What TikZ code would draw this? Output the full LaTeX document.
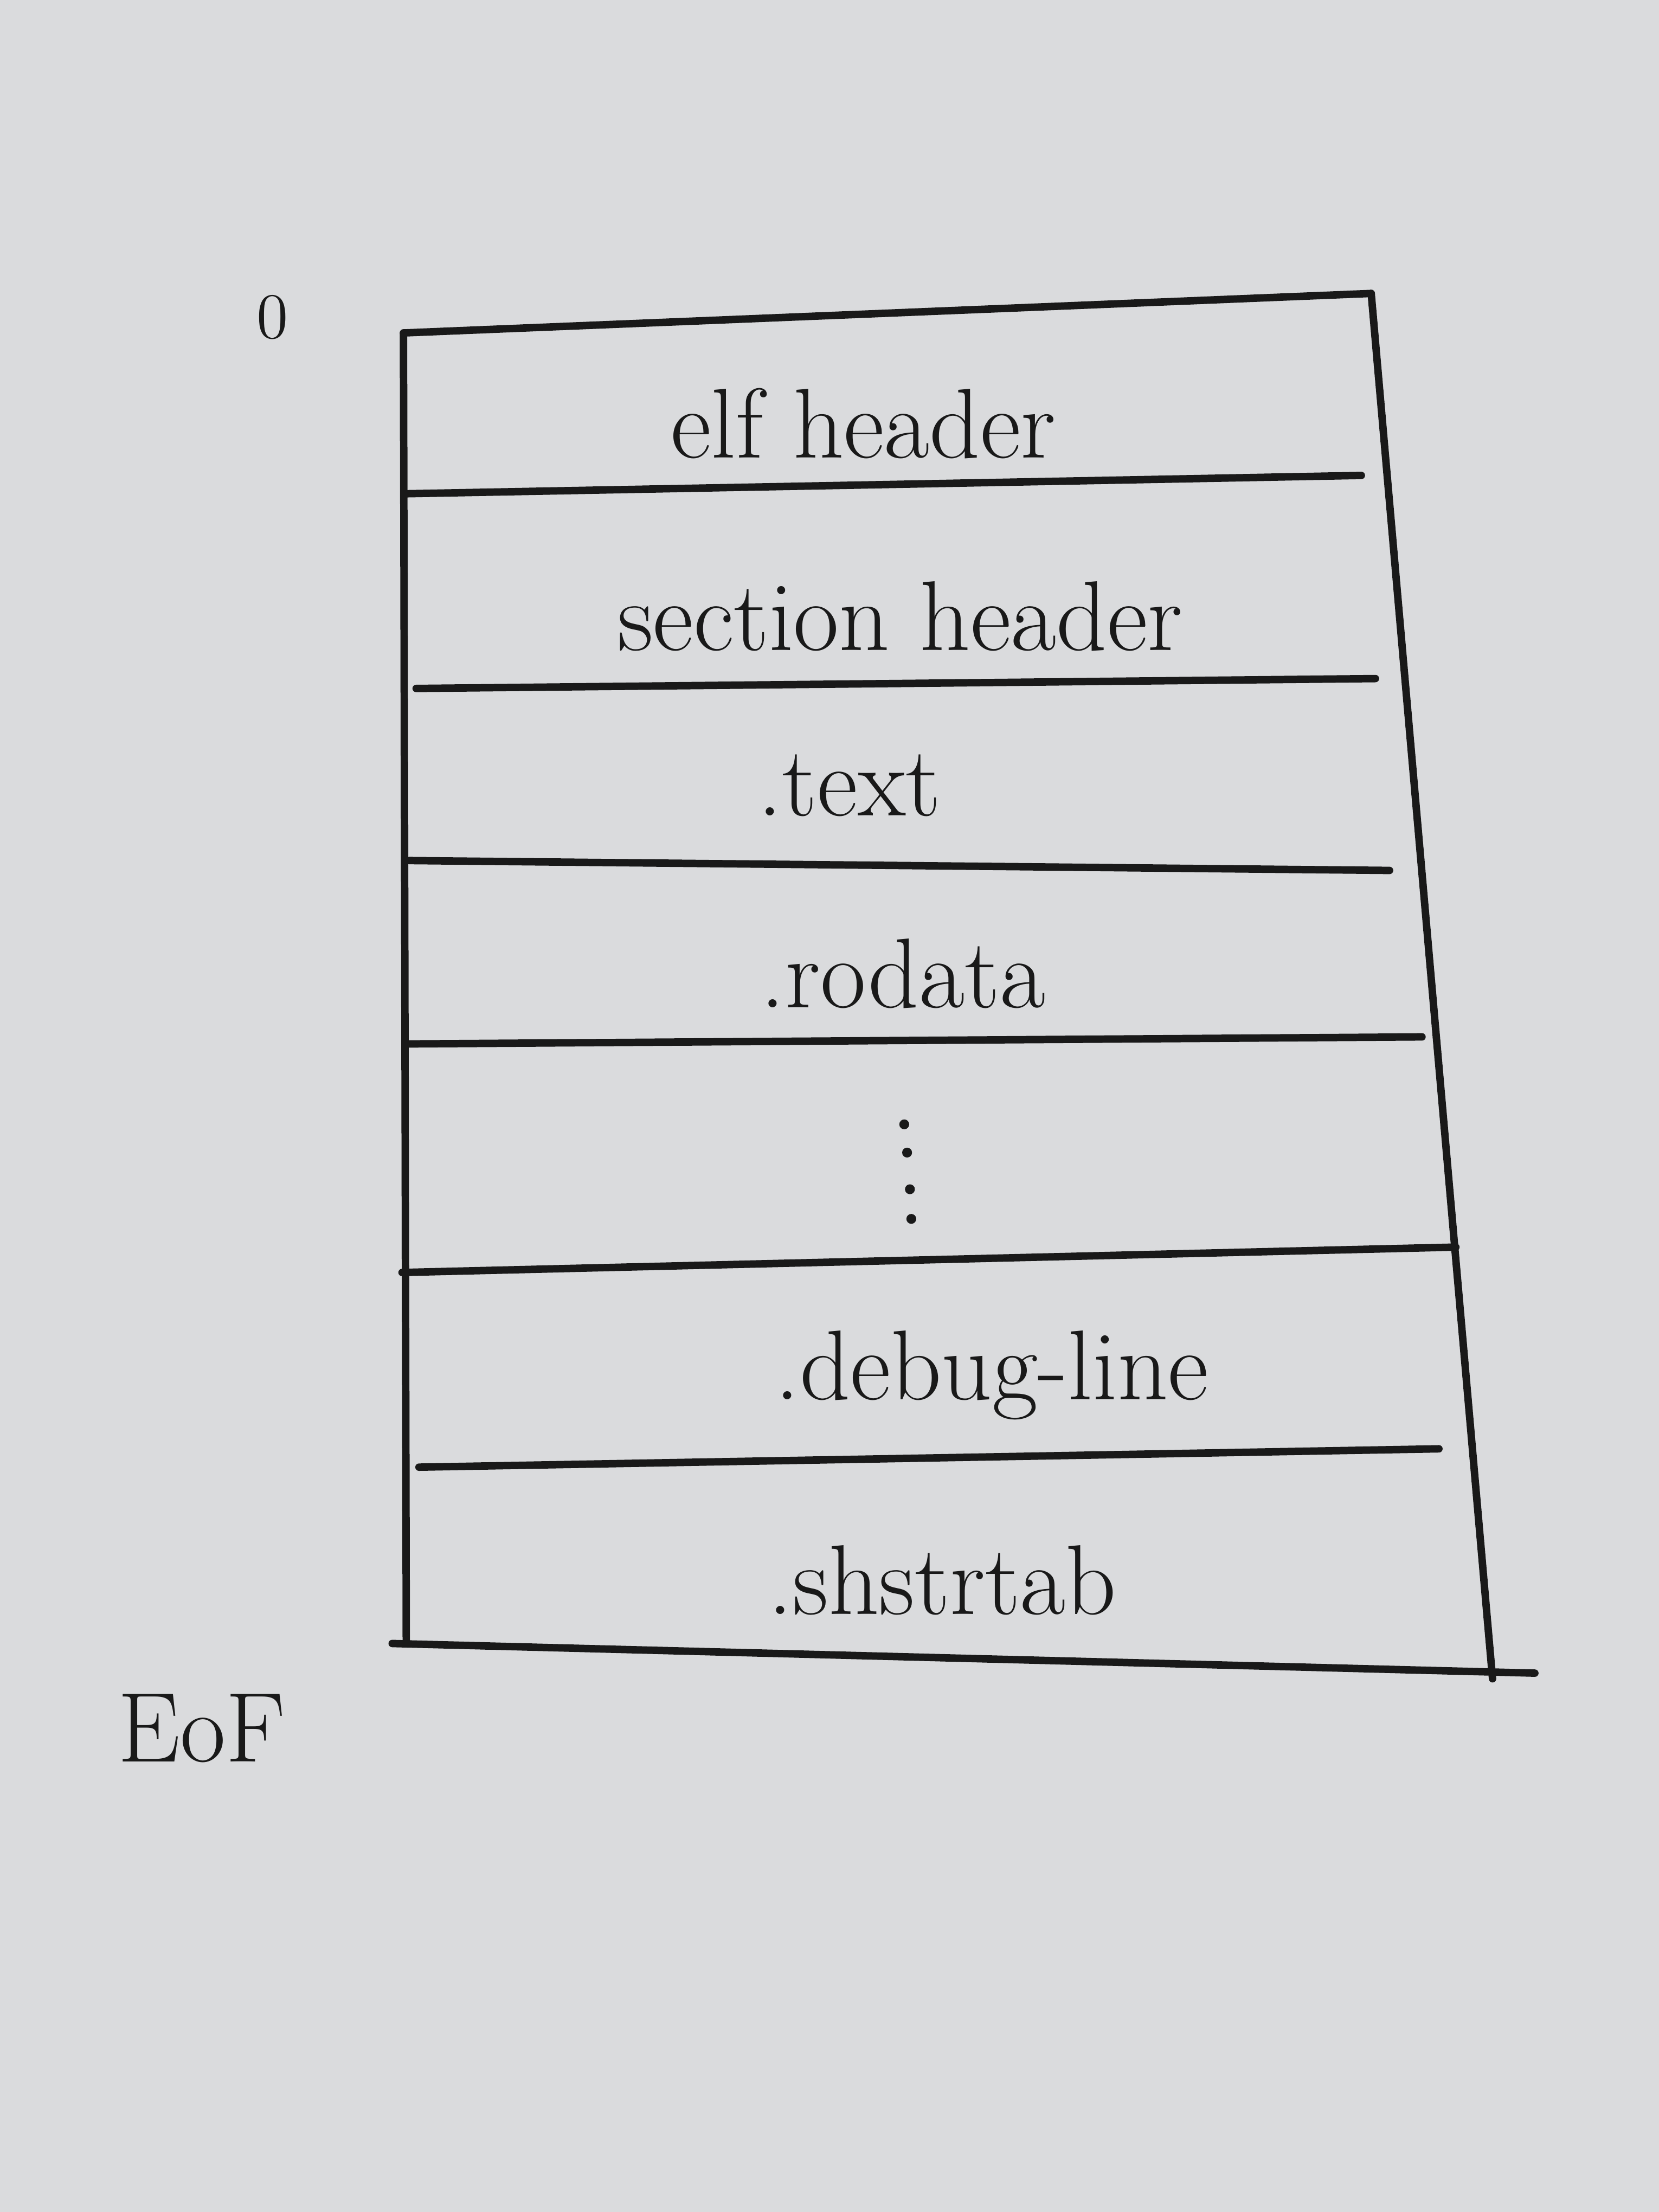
\documentclass[tikz,border=0pt]{standalone}
\begin{document}
\begin{tikzpicture}[x=0.01cm,y=-0.01cm,
  pen/.style={line width=1.5pt,black!90,line cap=round,line join=round},
  lbl/.style={font=\fontsize{20}{24}\selectfont,text=black!90,inner sep=0pt},
  dotmark/.style={fill=black!90}]
\useasboundingbox[fill={rgb,255:red,218;green,219;blue,221}] (0,0) rectangle (1176,1568);
% corners
\coordinate (TL) at (286,236);
\coordinate (TR) at (972,208);
\coordinate (BL) at (288,1165);
\coordinate (BR) at (1058,1190);
\coordinate (BLx) at (278,1165);
\coordinate (BRx) at (1088,1186);
% dividers
\coordinate (d1l) at (287,350); \coordinate (d1r) at (965,337);
\coordinate (d2l) at (295,488); \coordinate (d2r) at (975,481);
\coordinate (d3l) at (290,610); \coordinate (d3r) at (985,617);
\coordinate (d4l) at (287,740); \coordinate (d4r) at (1008,735);
\coordinate (d5l) at (285,902); \coordinate (d5r) at (1032,884);
\coordinate (d6l) at (297,1040); \coordinate (d6r) at (1020,1027);
% frame
\draw[pen] (TL) -- (TR);
\draw[pen] (TL) -- (BL);
\draw[pen] (TR) -- (BR);
\draw[pen] (BLx) -- (BRx);
\draw[pen] (d1l) -- (d1r);
\draw[pen] (d2l) -- (d2r);
\draw[pen] (d3l) -- (d3r);
\draw[pen] (d4l) -- (d4r);
\draw[pen] (d5l) -- (d5r);
\draw[pen] (d6l) -- (d6r);
% labels
\node[lbl,font=\fontsize{13}{15}\selectfont] (zero) at (193,225) {0};
\node[lbl] (elf) at (612,300) {elf header};
\node[lbl] (sect) at (638,437) {section header};
\node[lbl] (text) at (602,557) {.text};
\node[lbl] (rod) at (640,690) {.rodata};
\node[lbl] (dbg) at (703,975) {.debug-line};
\node[lbl] (shs) at (668,1120) {.shstrtab};
\node[lbl] (eof) at (143,1225) {EoF};
% vertical dots
\fill[dotmark] (641,797) circle (3.5);
\fill[dotmark] (643,817) circle (3.5);
\fill[dotmark] (645,843) circle (3.5);
\fill[dotmark] (646,864) circle (3.5);
\end{tikzpicture}
\end{document}
